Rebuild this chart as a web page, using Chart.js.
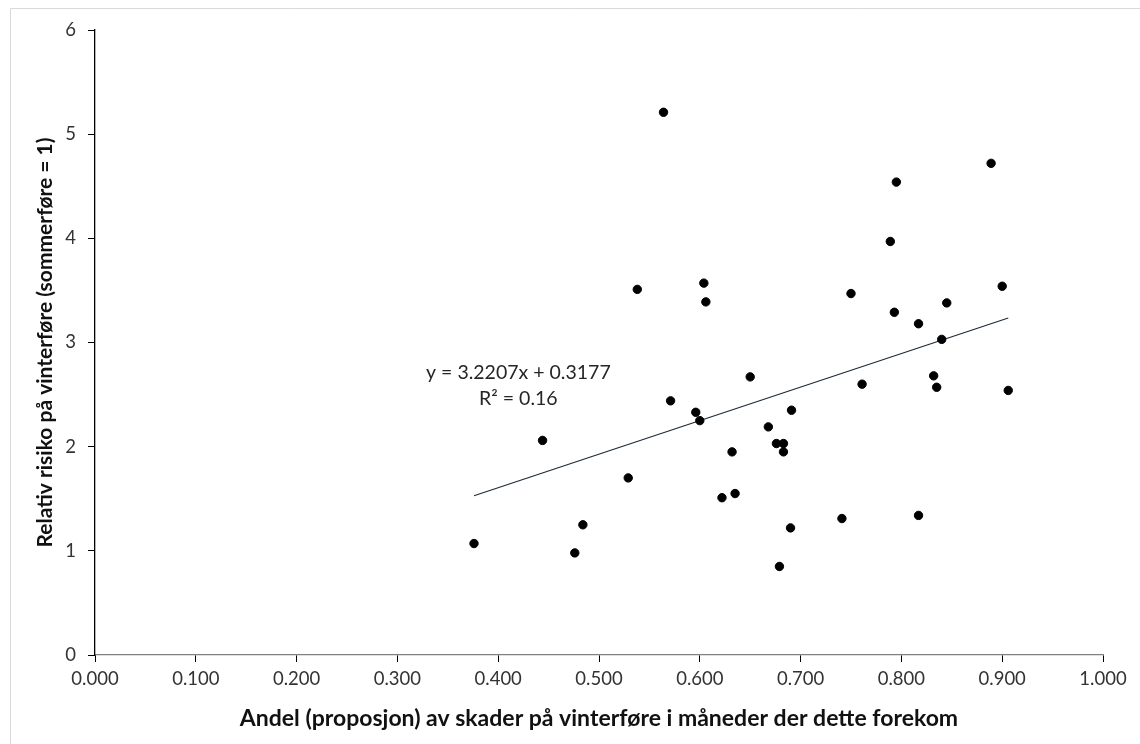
<!DOCTYPE html>
<html>
<head>
<meta charset="utf-8">
<script src="https://cdn.jsdelivr.net/npm/chart.js@4"></script>
<style>
  html, body { margin: 0; padding: 0; background: #fff; }
  canvas { display: block; }
</style>
</head>
<body>
<canvas id="scatter-chart" width="1140" height="744"></canvas>
<script>
// andel skader på vinterføre (x) og relativ risiko (y)
var andelVinter = [
    0.376, 0.444, 0.476, 0.484, 0.529, 0.538, 0.564, 0.571, 0.596, 0.600,
    0.604, 0.606, 0.622, 0.632, 0.635, 0.650, 0.668, 0.676, 0.679, 0.683,
    0.683, 0.691, 0.690, 0.741, 0.750, 0.761, 0.789, 0.793, 0.795, 0.817,
    0.817, 0.832, 0.835, 0.840, 0.845, 0.889, 0.900, 0.906
];
var relativRisiko = [
    1.07, 2.06, 0.98, 1.25, 1.70, 3.51, 5.21, 2.44, 2.33, 2.25,
    3.57, 3.39, 1.51, 1.95, 1.55, 2.67, 2.19, 2.03, 0.85, 2.03,
    1.95, 2.35, 1.22, 1.31, 3.47, 2.60, 3.97, 3.29, 4.54, 3.18,
    1.34, 2.68, 2.57, 3.03, 3.38, 4.72, 3.54, 2.54
];
var xTicks = [0, 0.1, 0.2, 0.3, 0.4, 0.5, 0.6, 0.7, 0.8, 0.9, 1.0];
var yTicks = [0, 1, 2, 3, 4, 5, 6];

var slope = 3.2207;
var intercept = 0.3177;
var rSquared = 0.16;

var points = andelVinter.map(function(x, i) { return {x: x, y: relativRisiko[i]}; });
var xMin = Math.min.apply(null, andelVinter);
var xMax = Math.max.apply(null, andelVinter);
var trend = [
    {x: xMin, y: slope * xMin + intercept},
    {x: xMax, y: slope * xMax + intercept}
];

var fontFamily = 'Lato, "Open Sans", sans-serif';

// lys ramme oppe og til venstre
var framePlugin = {
    id: 'frame',
    beforeDraw: function(chart) {
        var ctx = chart.ctx;
        ctx.save();
        ctx.strokeStyle = '#d9d9d9';
        ctx.lineWidth = 1;
        ctx.beginPath();
        ctx.moveTo(10.5, chart.height);
        ctx.lineTo(10.5, 8.5);
        ctx.lineTo(chart.width, 8.5);
        ctx.stroke();
        ctx.restore();
    }
};

// likning og R² for trendlinjen
var equationPlugin = {
    id: 'equation',
    afterDraw: function(chart) {
        var ctx = chart.ctx;
        var xs = chart.scales.x, ys = chart.scales.y;
        var cx = xs.getPixelForValue(0.42);
        ctx.save();
        ctx.font = '19.5px ' + fontFamily;
        ctx.fillStyle = '#262626';
        ctx.textAlign = 'center';
        ctx.textBaseline = 'middle';
        ctx.fillText('y = ' + slope.toFixed(4) + 'x + ' + intercept.toFixed(4), cx, ys.getPixelForValue(2.71));
        ctx.fillText('R\u00b2 = ' + rSquared.toFixed(2), cx, ys.getPixelForValue(2.46));
        ctx.restore();
    }
};

new Chart(document.getElementById('scatter-chart'), {
    type: 'scatter',
    data: {
        datasets: [{
            data: points,
            backgroundColor: '#000',
            borderColor: '#000',
            pointRadius: 4.2,
            pointHoverRadius: 4.2
        }, {
            type: 'line',
            data: trend,
            borderColor: '#1c2b3a',
            borderWidth: 1.2,
            pointRadius: 0,
            fill: false
        }]
    },
    options: {
        responsive: false,
        animation: false,
        events: [],
        layout: {padding: {top: 30, right: 37, left: 0, bottom: 0}},
        plugins: {
            legend: {display: false},
            tooltip: {enabled: false}
        },
        scales: {
            x: {
                type: 'linear',
                min: 0,
                max: 1,
                afterBuildTicks: function(scale) {
                    scale.ticks = xTicks.map(function(v) { return {value: v}; });
                },
                afterFit: function(scale) { scale.height = 89; },
                ticks: {
                    callback: function(v) { return v.toFixed(3); },
                    color: '#333',
                    font: {family: fontFamily, size: 18.5},
                    padding: 6,
                    maxRotation: 0
                },
                grid: {
                    drawOnChartArea: false,
                    drawTicks: true,
                    tickLength: 7,
                    color: '#000'
                },
                border: {color: '#808080', width: 1.3},
                title: {
                    display: true,
                    text: 'Andel (proposjon) av skader på vinterføre i måneder der dette forekom',
                    color: '#111',
                    font: {family: fontFamily, size: 23, weight: 'bold'},
                    padding: {top: 0, bottom: 12}
                }
            },
            y: {
                type: 'linear',
                min: 0,
                max: 6,
                afterBuildTicks: function(scale) {
                    scale.ticks = yTicks.map(function(v) { return {value: v}; });
                },
                afterFit: function(scale) { scale.width = 95; },
                ticks: {
                    color: '#333',
                    font: {family: fontFamily, size: 18.5},
                    padding: 12
                },
                grid: {
                    drawOnChartArea: false,
                    drawTicks: true,
                    tickLength: 7,
                    color: '#000'
                },
                border: {color: '#000', width: 1.3},
                title: {
                    display: true,
                    text: 'Relativ risiko på vinterføre (sommerføre = 1)',
                    color: '#111',
                    font: {family: fontFamily, size: 21, weight: 'bold'},
                    padding: {top: 33, bottom: 0}
                }
            }
        }
    },
    plugins: [framePlugin, equationPlugin]
});
</script>
</body>
</html>
